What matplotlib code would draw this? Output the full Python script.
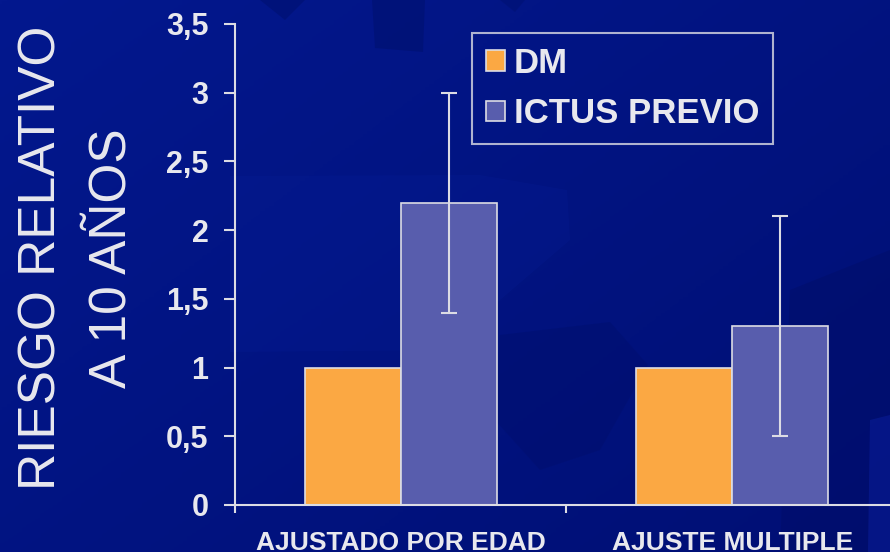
import numpy as np
import matplotlib
matplotlib.use("Agg")
import matplotlib.pyplot as plt
from matplotlib.patches import Polygon, Patch
from matplotlib.colors import LinearSegmentedColormap

# datos
categorias = ["AJUSTADO POR EDAD", "AJUSTE MULTIPLE"]
series = ["DM", "ICTUS PREVIO"]
dm_vals = [1.0, 1.0]
ictus_vals = [2.2, 1.3]
ictus_low = [1.4, 0.5]
ictus_high = [3.0, 2.1]
yticks = [0, 0.5, 1, 1.5, 2, 2.5, 3, 3.5]
ytick_labels = ["0", "0,5", "1", "1,5", "2", "2,5", "3", "3,5"]

C_DM = "#FBA843"
C_ICTUS = "#585DAD"
C_LINE = "#DCDCE4"
C_TEXT = "#E8E8EE"

plt.rcParams["font.family"] = ["Liberation Sans", "DejaVu Sans"]

fig = plt.figure(figsize=(8.9, 5.52), dpi=100)

# fondo de la diapositiva (degradado + formas)
bg = fig.add_axes([0, 0, 1, 1], zorder=0)
bg.set_axis_off()
gx, gy = np.meshgrid(np.linspace(0, 1, 200), np.linspace(0, 1, 200))
grad = 0.55 * gx + 0.45 * gy
cmap = LinearSegmentedColormap.from_list("slide", ["#03188E", "#000F74"])
bg.imshow(grad, cmap=cmap, extent=[0, 1, 0, 1], origin="upper", aspect="auto")
bg.set_xlim(0, 1)
bg.set_ylim(0, 1)

def px(pts):
    return [(x / 890, 1 - y / 552) for x, y in pts]

shapes = [
    ([(260, 0), (305, 0), (285, 20)], "#001070", 0.6),
    ([(372, 0), (425, 0), (423, 52), (375, 48)], "#001070", 0.6),
    ([(500, 0), (525, 0), (515, 12)], "#001070", 0.5),
    ([(230, 176), (480, 175), (567, 190), (570, 240), (500, 300), (445, 350), (230, 352)], "#0A22A0", 0.18),
    ([(500, 335), (610, 322), (648, 365), (600, 450), (540, 470), (495, 420)], "#000E68", 0.35),
    ([(790, 290), (890, 250), (890, 552), (780, 552)], "#000C62", 0.35),
    ([(870, 420), (890, 415), (890, 552), (868, 552)], "#0A1C96", 0.6),
]
for pts, col, a in shapes:
    bg.add_patch(Polygon(px(pts), closed=True, facecolor=col, edgecolor="none", alpha=a))

# grafico
ax = fig.add_axes([235 / 890, 1 - 505 / 552, 663 / 890, 481 / 552], zorder=1)
ax.set_facecolor("none")

x = np.arange(len(categorias))
w = 0.29
ax.bar(x - w / 2, dm_vals, w, color=C_DM, edgecolor=C_LINE, linewidth=1.2, label=series[0], zorder=2)
ax.bar(x + w / 2, ictus_vals, w, color=C_ICTUS, edgecolor=C_LINE, linewidth=1.2, label=series[1], zorder=2)

err = [np.array(ictus_vals) - np.array(ictus_low), np.array(ictus_high) - np.array(ictus_vals)]
ax.errorbar(x + w / 2, ictus_vals, yerr=err, fmt="none", ecolor=C_LINE,
            elinewidth=1.5, capsize=5.5, capthick=1.5, zorder=3)

ax.set_xlim(-0.5, 1.5)
ax.set_ylim(0, 3.5)
ax.set_yticks(yticks)
ax.set_yticklabels(ytick_labels)
ax.set_xticks(x)
ax.set_xticklabels(categorias)
ax.set_xticks([-0.5, 0.5, 1.5], minor=True)

for s in ["top", "right"]:
    ax.spines[s].set_visible(False)
for s in ["left", "bottom"]:
    ax.spines[s].set_color(C_LINE)
    ax.spines[s].set_linewidth(1.5)

ax.tick_params(axis="y", direction="out", length=8, width=1.5, color=C_LINE,
               labelcolor=C_TEXT, labelsize=22, pad=11)
ax.tick_params(axis="x", which="major", length=0, labelcolor=C_TEXT, labelsize=19, pad=19)
ax.tick_params(axis="x", which="minor", direction="out", length=6, width=1.5, color=C_LINE)
for lbl in ax.get_yticklabels() + ax.get_xticklabels():
    lbl.set_fontweight("bold")

handles = [Patch(facecolor=C_DM, edgecolor=C_LINE, linewidth=1.2),
           Patch(facecolor=C_ICTUS, edgecolor=C_LINE, linewidth=1.2)]
leg = fig.legend(handles, series, loc="upper left", bbox_to_anchor=(472 / 890, 1 - 33 / 552),
                 frameon=True, fancybox=False, facecolor="none", edgecolor=C_LINE,
                 prop={"weight": "bold", "size": 25}, handlelength=0.55, handleheight=0.55,
                 handletextpad=0.25, labelspacing=0.5, borderpad=0.4, borderaxespad=0)
leg.get_frame().set_linewidth(1.5)
for t in leg.get_texts():
    t.set_color(C_TEXT)
leg.set_zorder(5)

fig.text(77 / 890, 1 - 258 / 552, "RIESGO RELATIVO\nA 10 AÑOS", rotation=90,
         ha="center", va="center", multialignment="center", color=C_TEXT,
         fontsize=37, linespacing=1.55)

fig.savefig("out.png", dpi=100, facecolor="#02168A")
